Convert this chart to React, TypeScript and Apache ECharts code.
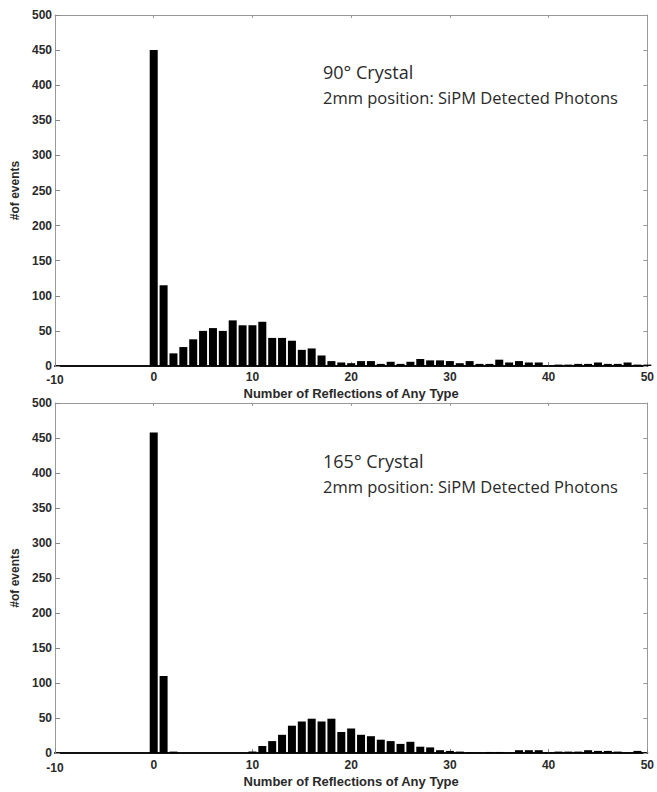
import React, { useEffect, useRef } from "react";
import * as echarts from "echarts";

const reflections: number[] = Array.from({ length: 51 }, (_, i) => i);

const crystal90: number[] = [
  450, 115, 18, 27, 38, 50, 54, 50, 65, 58, 58, 63, 40, 40, 36, 23, 25, 15, 7, 5,
  4, 7, 7, 3, 6, 3, 6, 10, 8, 8, 7, 4, 7, 3, 3, 9, 5, 7, 5, 5,
  1, 2, 2, 3, 3, 5, 3, 3, 5, 2, 2,
];

const crystal165: number[] = [
  458, 110, 2, 0, 0, 0, 0, 0, 0, 0, 2, 10, 17, 26, 39, 45, 49, 45, 49, 30,
  35, 26, 24, 19, 17, 13, 16, 9, 8, 4, 3, 2, 1, 0.5, 1.5, 1.5, 0.5, 4, 4, 4,
  1, 2, 2, 2, 4, 3, 3, 2, 0.5, 3, 0,
];

const titles90 = ["90° Crystal", "2mm position: SiPM Detected Photons"];
const titles165 = ["165° Crystal", "2mm position: SiPM Detected Photons"];
const xName = "Number of Reflections of Any Type";
const yName = "#of events";

const labelStyle = {
  fontFamily: "Liberation Sans",
  fontWeight: "bold" as const,
  fontSize: 12,
  color: "#2a2a2a",
};

function makeAxes(gridIndex: number, labelMargin: number, nameGap: number) {
  const xAxes = [
    {
      type: "value",
      gridIndex,
      position: "bottom",
      min: -10,
      max: 50,
      interval: 10,
      name: xName,
      nameLocation: "middle",
      nameGap,
      nameTextStyle: { ...labelStyle, fontSize: 13 },
      axisLine: { show: true, onZero: false, lineStyle: { color: "#111", width: 2 } },
      axisTick: { show: true, inside: true, length: 4, lineStyle: { color: "#888" } },
      axisLabel: {
        ...labelStyle,
        margin: labelMargin,
        formatter: (v: number) => (v === -10 ? "{m|-10}" : String(v)),
        rich: { m: { ...labelStyle, padding: [3, 0, 0, 0] } },
      },
      splitLine: { show: false },
    },
    {
      type: "value",
      gridIndex,
      position: "top",
      min: -10,
      max: 50,
      interval: 10,
      axisLine: { show: true, onZero: false, lineStyle: { color: "#999", width: 1 } },
      axisTick: { show: true, inside: true, length: 3, lineStyle: { color: "#999" } },
      axisLabel: { show: false },
      splitLine: { show: false },
    },
  ];
  const yAxes = [
    {
      type: "value",
      gridIndex,
      position: "left",
      min: 0,
      max: 500,
      interval: 50,
      name: yName,
      nameLocation: "middle",
      nameGap: 33,
      nameTextStyle: { ...labelStyle, fontSize: 12 },
      axisLine: { show: true, onZero: false, lineStyle: { color: "#999", width: 1 } },
      axisTick: { show: true, inside: true, length: 5, lineStyle: { color: "#888" } },
      axisLabel: { ...labelStyle, margin: 3 },
      splitLine: { show: false },
    },
    {
      type: "value",
      gridIndex,
      position: "right",
      min: 0,
      max: 500,
      interval: 50,
      axisLine: { show: true, onZero: false, lineStyle: { color: "#999", width: 1 } },
      axisTick: { show: true, inside: true, length: 4, lineStyle: { color: "#999" } },
      axisLabel: { show: false },
      splitLine: { show: false },
    },
  ];
  return { xAxes, yAxes };
}

export default function App() {
  const ref = useRef<HTMLDivElement>(null);
  useEffect(() => {
    if (!ref.current) return;
    const chart = echarts.init(ref.current, null, { renderer: "svg" });
    const a0 = makeAxes(0, 5, 13);
    const a1 = makeAxes(1, 6, 17);
    const mkText = (text: string, x: number, y: number, size: number) => ({
      type: "text",
      left: x,
      top: y,
      style: {
        text,
        fontFamily: "Open Sans",
        fontSize: size,
        fill: "#2a2a2a",
      },
    });
    chart.setOption({
      animation: false,
      backgroundColor: "#fff",
      grid: [
        { left: 55, top: 15, width: 594, height: 351 },
        { left: 55, top: 403, width: 594, height: 350 },
      ],
      xAxis: [...a0.xAxes, ...a1.xAxes],
      yAxis: [...a0.yAxes, ...a1.yAxes],
      series: [
        {
          type: "bar",
          xAxisIndex: 0,
          yAxisIndex: 0,
          barWidth: 8,
          itemStyle: { color: "#000" },
          data: reflections.map((r, i) => [r, crystal90[i]]),
        },
        {
          type: "bar",
          xAxisIndex: 2,
          yAxisIndex: 2,
          barWidth: 8,
          itemStyle: { color: "#000" },
          data: reflections.map((r, i) => [r, crystal165[i]]),
        },
      ],
      graphic: [
        mkText(titles90[0], 323, 63, 18),
        mkText(titles90[1], 323, 89, 16.5),
        mkText(titles165[0], 323, 452, 18),
        mkText(titles165[1], 323, 478, 16.5),
      ],
    });
    return () => chart.dispose();
  }, []);
  return (
    <div
      ref={ref}
      style={{ position: "fixed", left: 0, top: 0, width: 657, height: 792 }}
    />
  );
}
